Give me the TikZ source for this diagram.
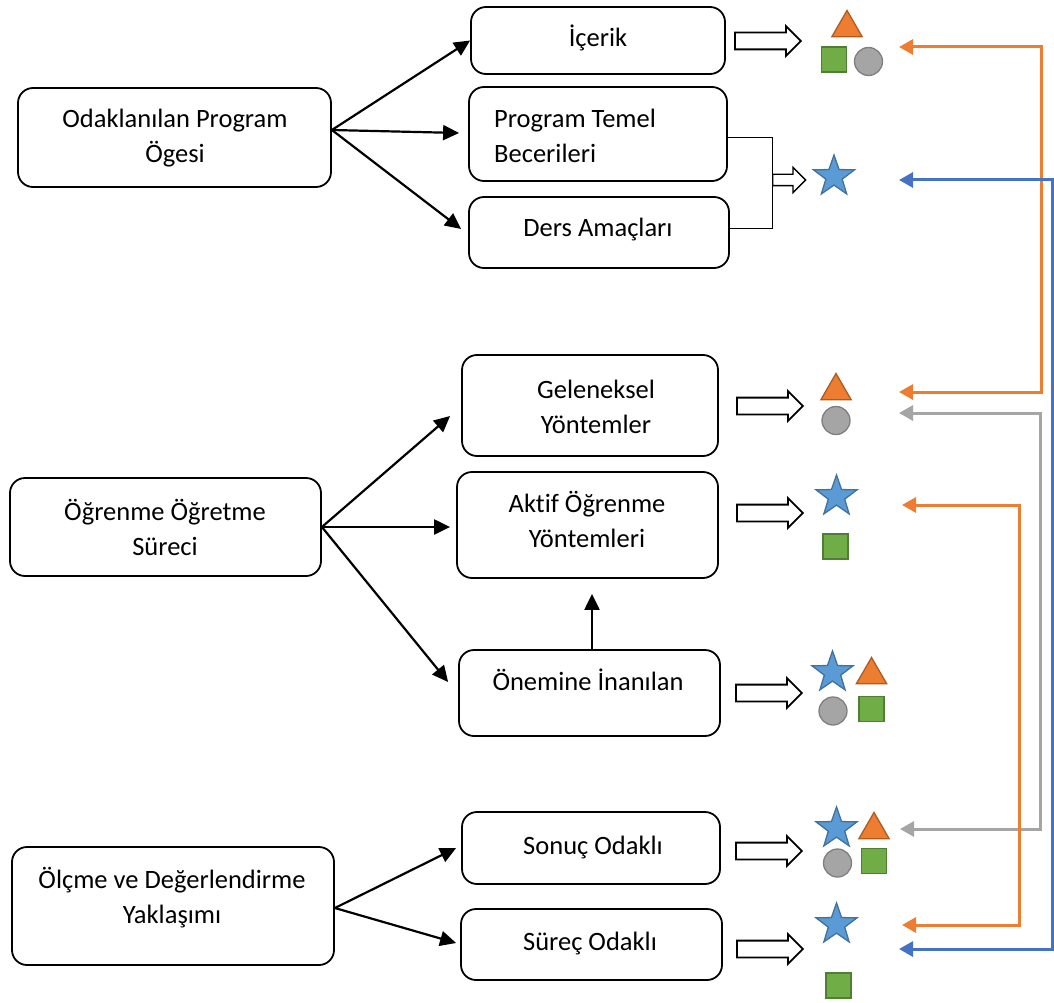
\documentclass[tikz,border=0pt]{standalone}
\usepackage{fontspec}
\setmainfont{Carlito}[Ligatures=NoCommon]
\usetikzlibrary{arrows.meta,shapes.geometric,shapes.arrows,fit,calc}
\definecolor{orf}{HTML}{ED7D31}\definecolor{ord}{HTML}{AE5A21}
\definecolor{grf}{HTML}{70AD47}\definecolor{grd}{HTML}{507E32}
\definecolor{gyf}{HTML}{A5A5A5}\definecolor{gyd}{HTML}{7F7F7F}
\definecolor{blf}{HTML}{5B9BD5}\definecolor{bld}{HTML}{41719C}
\definecolor{conblue}{HTML}{4472C4}
\definecolor{conorange}{HTML}{ED7D31}
\definecolor{congray}{HTML}{A5A5A5}
\begin{document}
\begin{tikzpicture}[x=1pt,y=-1pt,
  box/.style={draw,line width=1.8pt,rounded corners=15pt,inner sep=0pt},
  txt/.style={font=\fontsize{26.5}{35}\selectfont,align=center,inner sep=0pt},
  barrow/.style={line width=2.2pt,-{Triangle[length=16pt,width=15pt]}},
  harrow/.style={single arrow,draw,line width=1.8pt,fill=white,inner sep=7.5pt,single arrow head extend=6.5pt,minimum height=66pt,anchor=tail},
  sharrow/.style={single arrow,draw,line width=1.3pt,fill=white,inner sep=5pt,single arrow head extend=7pt,minimum height=33pt,anchor=tail},
  tri/.style={regular polygon,regular polygon sides=3,fill=orf,draw=ord,line width=1.3pt,minimum size=35pt,inner sep=0pt},
  sqr/.style={rectangle,fill=grf,draw=grd,line width=1.3pt,minimum size=25pt,inner sep=0pt},
  cir/.style={circle,fill=gyf,draw=gyd,line width=1.3pt,minimum size=28pt,inner sep=0pt},
  str/.style={star,star points=5,star point ratio=2.5,fill=blf,draw=bld,line width=1.3pt,minimum size=43pt,inner sep=0pt},
  cline/.style={line width=3pt,{Triangle[length=14pt,width=15pt]}-{Triangle[length=14pt,width=15pt]}}
]
\useasboundingbox (0,0) rectangle (1054,1003);

% boxes
\node[box,fit={(471,7)(725,74)}] (icerik) {};
\node[box,fit={(18,88)(331,187)}] (odak) {};
\node[box,fit={(469,87)(727,181)}] (ptb) {};
\node[box,fit={(469,197)(729,268)}] (ders) {};
\node[box,fit={(462,355)(718,456)}] (gel) {};
\node[box,fit={(10,478)(321,576)}] (ogr) {};
\node[box,fit={(457,472)(718,578)}] (aktif) {};
\node[box,fit={(459,650)(720,736)}] (onem) {};
\node[box,fit={(12,847)(334,965)}] (olcme) {};
\node[box,fit={(462,812)(720,884)}] (sonuc) {};
\node[box,fit={(461,909)(722,980)}] (surec) {};

% texts
\node[txt,anchor=base] (ticerik) at (598,47) {İçerik};
\node[txt,anchor=base] (todak) at (175,163) {Odaklanılan Program\\Ögesi};
\node[txt,anchor=base west,align=left] (tptb) at (494,163) {Program Temel\\Becerileri};
\node[txt,anchor=base] (tders) at (598,236) {Ders Amaçları};
\node[txt,anchor=base] (tgel) at (596,433) {Geleneksel\\Yöntemler};
\node[txt,anchor=base] (togr) at (165,555) {Öğrenme Öğretme\\Süreci};
\node[txt,anchor=base] (taktif) at (587,547) {Aktif Öğrenme\\Yöntemleri};
\node[txt,anchor=base] (tonem) at (588,690) {Önemine İnanılan};
\node[txt,anchor=base] (tolcme) at (172,923) {Ölçme ve Değerlendirme\\Yaklaşımı};
\node[txt,anchor=base] (tsonuc) at (593,854) {Sonuç Odaklı};
\node[txt,anchor=base] (tsurec) at (590,950) {Süreç Odaklı};

% black arrows
\draw[barrow] ([yshift=7.5pt]odak.east) -- (icerik.west);
\draw[barrow] ([yshift=7.5pt]odak.east) -- ([xshift=-9pt,yshift=1pt]ptb.west);
\draw[barrow] ([yshift=7.5pt]odak.east) -- ([xshift=-7pt,yshift=3.5pt]ders.west);
\draw[barrow] (ogr.east) -- ([xshift=-11pt,yshift=-10.5pt]gel.west);
\draw[barrow] (ogr.east) -- ([xshift=-6pt,yshift=-2pt]aktif.west);
\draw[barrow] (ogr.east) -- ([xshift=-10pt,yshift=11pt]onem.west);
\draw[barrow] ([yshift=-2pt]olcme.east) -- ([xshift=-5pt]sonuc.west);
\draw[barrow] ([yshift=-2pt]olcme.east) -- ([xshift=-4pt,yshift=1.5pt]surec.west);
\draw[barrow] ([xshift=2.5pt]onem.north) -- ([xshift=4.5pt,yshift=-15pt]aktif.south);

% bracket
\coordinate (brk) at (772,180);
\draw[line width=1pt] ([yshift=-4pt]ptb.east) -| (brk) |- ([yshift=4.5pt]ders.east);

% hollow arrows
\node[harrow] (h1) at (734,41) {};
\node[sharrow] (h2) at (brk) {};
\node[harrow] (h3) at (736,406) {};
\node[harrow] (h4) at (736,513) {};
\node[harrow] (h5) at (735,693) {};
\node[harrow] (h6) at (735,851) {};
\node[harrow] (h7) at (736,949) {};

% symbols
\node[tri] (t1) at (847,28) {};
\node[sqr] (q1) at (834,59.5) {};
\node[cir] (c1) at (868.5,61.5) {};
\node[str] (s2) at (834,176.5) {};
\node[tri] (t3) at (836,391) {};
\node[cir] (c3) at (836,420.5) {};
\node[str] (s4) at (836.5,496.5) {};
\node[sqr] (q4) at (835.5,546.5) {};
\node[str] (s5) at (832.5,672.5) {};
\node[tri] (t5) at (871.5,675) {};
\node[cir] (c5) at (833,711) {};
\node[sqr] (q5) at (871.5,709) {};
\node[str] (s6) at (836.5,828.5) {};
\node[tri] (t6) at (874,830) {};
\node[cir] (c6) at (837.5,863) {};
\node[sqr] (q6) at (874,861) {};
\node[str] (s7) at (836.5,924.5) {};
\node[sqr] (q7) at (838.5,985.5) {};

% colored connectors
\coordinate (oa) at (899,47);
\coordinate (ob) at (899,392);
\coordinate (ba) at (899,180);
\coordinate (bb) at (899,949);
\coordinate (ga) at (899,413);
\coordinate (gb) at (900,829);
\coordinate (pa) at (902,505);
\coordinate (pb) at (902,925);
\draw[cline,conorange] (oa) -- (1041,47) |- (ob);
\draw[cline,congray] (ga) -- (1040,413) |- (gb);
\draw[cline,conorange] (pa) -- (1019,505) |- (pb);
\draw[cline,conblue] (ba) -- (1052,180) |- (bb);
\end{tikzpicture}
\end{document}
